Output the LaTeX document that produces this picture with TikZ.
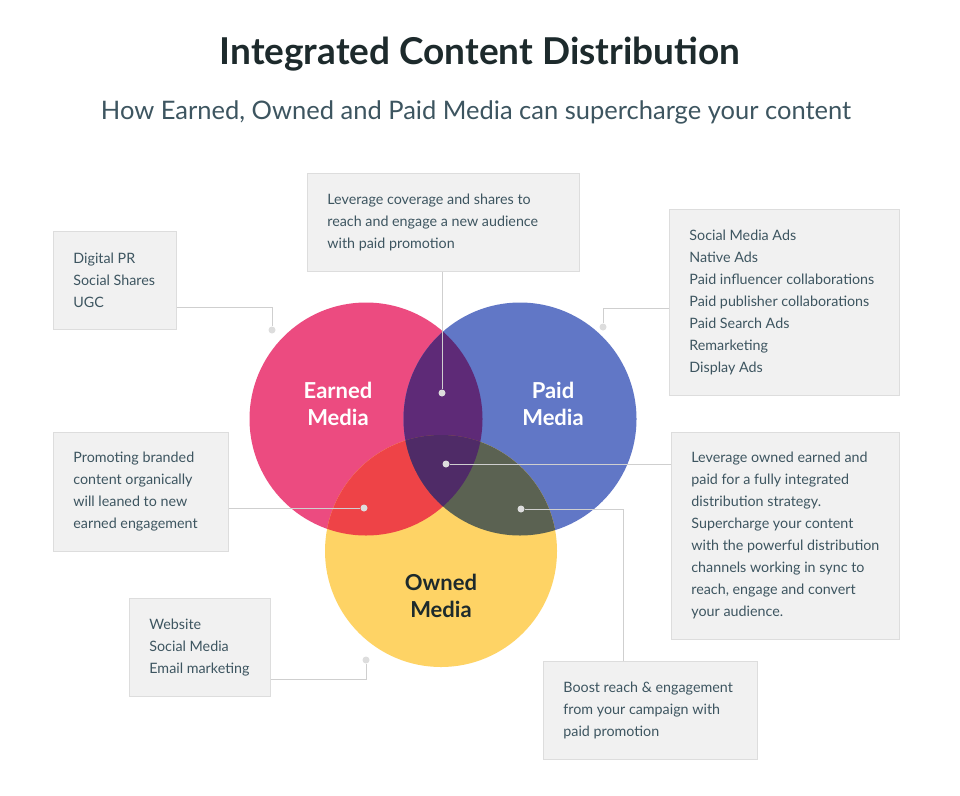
\documentclass[tikz,border=0pt]{standalone}
\usepackage{fontspec}
\setmainfont{Lato}
\usepackage[HTML]{xcolor}
\usetikzlibrary{positioning}
\definecolor{earned}{HTML}{EC4B80}
\definecolor{paid}{HTML}{6177C6}
\definecolor{owned}{HTML}{FED365}
\definecolor{epcol}{HTML}{5E2A77}
\definecolor{eocol}{HTML}{EE4347}
\definecolor{pocol}{HTML}{5B6252}
\definecolor{allcol}{HTML}{4F2B67}
\definecolor{ink}{HTML}{3D5560}
\definecolor{titleink}{HTML}{1D2A2C}
\definecolor{boxfill}{HTML}{F1F1F1}
\definecolor{boxline}{HTML}{DDDDDD}
\definecolor{wire}{HTML}{CFCFCF}
\newcommand{\boxfont}{\fontsize{14.3}{22}\selectfont}

\begin{document}
\begin{tikzpicture}[x=1pt, y=-1pt,
  box/.style={draw=boxline, fill=boxfill, line width=0.8pt, anchor=north west,
    align=left, text=ink, inner sep=0pt},
  dot/.style={circle, fill=boxline, inner sep=0pt, minimum size=7pt},
  wire/.style={draw=wire, line width=0.9pt},
  circ/.style={font=\fontsize{22}{27}\selectfont\bfseries, align=center}]
\useasboundingbox (0,0) rectangle (960,795);
\fill[white] (0,0) rectangle (960,795);

% title
\node[font=\fontsize{37}{40}\selectfont\bfseries, text=titleink] (title) at (480,54) {Integrated Content Distribution};
\node[font=\fontsize{25.5}{30}\selectfont, text=ink] (subtitle) at (476,112) {How Earned, Owned and Paid Media can supercharge your content};

% circles
\coordinate (E) at (366,419);
\coordinate (P) at (520,419);
\coordinate (O) at (441,551);
\fill[earned] (E) circle (116.5);
\fill[paid] (P) circle (116.5);
\fill[owned] (O) circle (116);
\begin{scope}
  \clip (E) circle (116.5);
  \fill[epcol] (P) circle (116.5);
  \fill[eocol] (O) circle (116);
\end{scope}
\begin{scope}
  \clip (P) circle (116.5);
  \clip (O) circle (116);
  \fill[pocol] (200,200) rectangle (700,700);
\end{scope}
\begin{scope}
  \clip (P) circle (116.5);
  \clip (O) circle (116);
  \clip (E) circle (116.5);
  \fill[allcol] (200,200) rectangle (700,700);
\end{scope}

\node[circ, text=white] (earnedlbl) at (338,404) {Earned\\Media};
\node[circ, text=white] (paidlbl) at (553,404) {Paid\\Media};
\node[circ, text=titleink] (ownedlbl) at (441,596) {Owned\\Media};

% boxes
\node[box, minimum width=123, minimum height=98] (earnedbox) at (53,231)
  {\begin{minipage}{83pt}\boxfont Digital PR\\Social Shares\\UGC\end{minipage}};
\node[box, minimum width=272, minimum height=98] (epbox) at (307,173)
  {\begin{minipage}{232pt}\boxfont Leverage coverage and shares to\\reach and engage a new audience\\with paid promotion\end{minipage}};
\node[box, minimum width=230, minimum height=186] (paidbox) at (669,209)
  {\begin{minipage}{190pt}\boxfont Social Media Ads\\Native Ads\\Paid influencer collaborations\\Paid publisher collaborations\\Paid Search Ads\\Remarketing\\Display Ads\end{minipage}};
\node[box, minimum width=175, minimum height=119] (eobox) at (53,432)
  {\begin{minipage}{135pt}\boxfont Promoting branded\\content organically\\will leaned to new\\earned engagement\end{minipage}};
\node[box, minimum width=228, minimum height=207] (allbox) at (671,432)
  {\begin{minipage}{188pt}\boxfont Leverage owned earned and\\paid for a fully integrated\\distribution strategy.\\Supercharge your content\\with the powerful distribution\\channels working in sync to\\reach, engage and convert\\your audience.\end{minipage}};
\node[box, minimum width=141, minimum height=98] (ownedbox) at (129,598)
  {\begin{minipage}{101pt}\boxfont Website\\Social Media\\Email marketing\end{minipage}};
\node[box, minimum width=214, minimum height=98] (pobox) at (543,661)
  {\begin{minipage}{174pt}\boxfont Boost reach \& engagement\\from your campaign with\\paid promotion\end{minipage}};

% dots
\node[dot] (earneddot) at (272,330) {};
\node[dot] (epdot) at (442,393) {};
\node[dot] (paiddot) at (603,327) {};
\node[dot] (eodot) at (364,508) {};
\node[dot] (alldot) at (446,464) {};
\node[dot] (owneddot) at (366,660) {};
\node[dot] (podot) at (521,509) {};

% connectors
\draw[wire] (earnedbox.east |- 0,307) -| (earneddot);
\draw[wire] (epbox.south -| epdot) -- (epdot);
\draw[wire] (paidbox.west |- 0,308) -| (paiddot);
\draw[wire] (eobox.east |- eodot) -- (eodot);
\draw[wire] (allbox.west |- alldot) -- (alldot);
\draw[wire] (ownedbox.east |- 0,679) -| (owneddot);
\draw[wire] (pobox.north -| 623,0) |- (podot);
\end{tikzpicture}
\end{document}
